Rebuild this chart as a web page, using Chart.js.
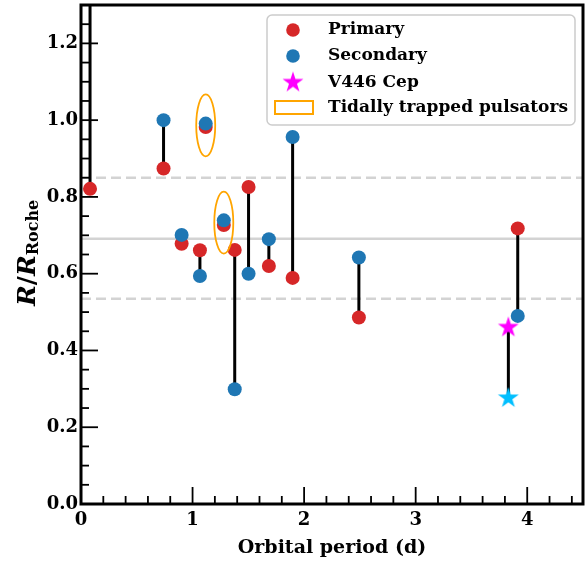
<!DOCTYPE html>
<html>
<head>
<meta charset="utf-8">
<script src="https://cdn.jsdelivr.net/npm/chart.js@4.4.1/dist/chart.umd.min.js"></script>
<style>
  html, body { margin: 0; padding: 0; background: #fff; }
</style>
</head>
<body>
<canvas id="chart" width="586" height="563"></canvas>
<script>
// orbital period (d) and R/R_Roche of each component
const periods    = [0.081, 0.74, 1.118, 0.902, 1.066, 1.28, 1.378, 1.502, 1.684, 1.897, 2.491, 3.915];
const primaryR   = [0.821, 0.874, 0.982, 0.678, 0.661, 0.727, 0.662, 0.826, 0.620, 0.589, 0.486, 0.718];
const secondaryR = [1.45, 1.000, 0.991, 0.701, 0.594, 0.739, 0.299, 0.600, 0.690, 0.956, 0.642, 0.490];
// V446 Cep
const v446Period = [3.831];
const v446Primary = [0.460];
const v446Secondary = [0.276];
// systems with tidally trapped pulsations (index into periods)
const trappedIdx = [2, 5];
// reference levels
const solidLevels = [0.691];
const dashedLevels = [0.85, 0.535];
const xTicks = [0, 1, 2, 3, 4];
const yTicks = [0, 0.2, 0.4, 0.6, 0.8, 1.0, 1.2];
const xMinor = [0.2, 0.4, 0.6, 0.8, 1.2, 1.4, 1.6, 1.8, 2.2, 2.4, 2.6, 2.8, 3.2, 3.4, 3.6, 3.8, 4.2, 4.4];
const yMinor = [0.05, 0.1, 0.15, 0.25, 0.3, 0.35, 0.45, 0.5, 0.55, 0.65, 0.7, 0.75, 0.85, 0.9, 0.95, 1.05, 1.1, 1.15, 1.25];

const RED = "#d62728";
const BLUE = "#1f77b4";
const MAGENTA = "#ff00ff";
const CYAN = "#00bfff";
const ORANGE = "#ffa500";

Chart.defaults.font.family = "'DejaVu Serif', serif";
Chart.defaults.color = "#000";

// five point star as a pointStyle image
function makeStar(color, r) {
  const s = Math.ceil(r * 2 + 2);
  const c = document.createElement("canvas");
  c.width = s;
  c.height = s;
  const g = c.getContext("2d");
  g.fillStyle = color;
  g.beginPath();
  for (let k = 0; k < 10; k++) {
    const rad = k % 2 === 0 ? r : r * 0.382;
    const a = -Math.PI / 2 + (k * Math.PI) / 5;
    const px = s / 2 + rad * Math.cos(a);
    const py = s / 2 + rad * Math.sin(a);
    if (k === 0) g.moveTo(px, py);
    else g.lineTo(px, py);
  }
  g.closePath();
  g.fill();
  return c;
}
const starMagenta = makeStar(MAGENTA, 11);
const starCyan = makeStar(CYAN, 11);

// stems between primary and secondary
const stems = [];
periods.forEach((p, i) => {
  stems.push({ x: p, y: primaryR[i] }, { x: p, y: secondaryR[i] }, { x: p, y: null });
});
v446Period.forEach((p, i) => {
  stems.push({ x: p, y: v446Primary[i] }, { x: p, y: v446Secondary[i] }, { x: p, y: null });
});

const toPoints = (xs, ys) => xs.map((x, i) => ({ x: x, y: ys[i] }));

const framePlugin = {
  id: "frame",
  beforeDatasetsDraw(chart) {
    const { ctx, chartArea: a, scales } = chart;
    ctx.save();
    ctx.strokeStyle = "#d3d3d3";
    ctx.lineWidth = 2.5;
    solidLevels.forEach((v) => {
      const y = scales.y.getPixelForValue(v);
      ctx.beginPath();
      ctx.moveTo(a.left, y);
      ctx.lineTo(a.right, y);
      ctx.stroke();
    });
    ctx.setLineDash([10, 5]);
    dashedLevels.forEach((v) => {
      const y = scales.y.getPixelForValue(v);
      ctx.beginPath();
      ctx.moveTo(a.left, y);
      ctx.lineTo(a.right, y);
      ctx.stroke();
    });
    ctx.restore();
  },
  afterDatasetsDraw(chart) {
    const { ctx, chartArea: a, scales } = chart;
    ctx.save();
    // ellipses round the tidally trapped pulsators
    ctx.strokeStyle = ORANGE;
    ctx.lineWidth = 1.8;
    trappedIdx.forEach((i) => {
      const cx = scales.x.getPixelForValue(periods[i]);
      const cy = scales.y.getPixelForValue((primaryR[i] + secondaryR[i]) / 2);
      ctx.beginPath();
      ctx.ellipse(cx, cy, 9.5, 31, 0, 0, Math.PI * 2);
      ctx.stroke();
    });
    // inward ticks
    ctx.strokeStyle = "#000";
    ctx.lineWidth = 1.8;
    const tick = (vals, len, axis) => {
      vals.forEach((v) => {
        ctx.beginPath();
        if (axis === "x") {
          const x = scales.x.getPixelForValue(v);
          ctx.moveTo(x, a.bottom);
          ctx.lineTo(x, a.bottom - len);
        } else {
          const y = scales.y.getPixelForValue(v);
          ctx.moveTo(a.left, y);
          ctx.lineTo(a.left + len, y);
        }
        ctx.stroke();
      });
    };
    tick(xTicks, 17, "x");
    tick(xMinor, 8, "x");
    tick(yTicks, 17, "y");
    tick(yMinor, 8, "y");
    // spines
    ctx.lineWidth = 3;
    ctx.strokeRect(a.left, a.top, a.right - a.left, a.bottom - a.top);
    ctx.restore();
  },
  afterDraw(chart) {
    const { ctx } = chart;
    ctx.save();
    // legend
    const bx = 267, by = 15, bw = 308, bh = 110;
    ctx.fillStyle = "rgba(255,255,255,0.8)";
    ctx.strokeStyle = "#cccccc";
    ctx.lineWidth = 1.5;
    ctx.beginPath();
    ctx.roundRect(bx, by, bw, bh, 5);
    ctx.fill();
    ctx.stroke();

    const mx = 293, tx = 328;
    const rows = [30, 56, 82.5, 107.5];
    ctx.fillStyle = RED;
    ctx.beginPath();
    ctx.arc(mx, rows[0], 6.8, 0, Math.PI * 2);
    ctx.fill();
    ctx.fillStyle = BLUE;
    ctx.beginPath();
    ctx.arc(mx, rows[1], 6.8, 0, Math.PI * 2);
    ctx.fill();
    ctx.drawImage(starMagenta, mx - starMagenta.width / 2, rows[2] - starMagenta.height / 2);
    ctx.strokeStyle = ORANGE;
    ctx.lineWidth = 2;
    ctx.strokeRect(275, rows[3] - 6.5, 38, 13);

    ctx.fillStyle = "#000";
    ctx.font = "bold 17px 'DejaVu Serif'";
    ctx.textBaseline = "middle";
    ctx.textAlign = "left";
    ["Primary", "Secondary", "V446 Cep", "Tidally trapped pulsators"].forEach((t, k) => {
      ctx.fillText(t, tx, rows[k]);
    });

    // y axis title R/R_Roche
    ctx.translate(35, 306);
    ctx.rotate(-Math.PI / 2);
    ctx.textBaseline = "alphabetic";
    let x = 0;
    ctx.font = "italic bold 25px 'DejaVu Serif'";
    ctx.fillText("R", x, 0);
    x += ctx.measureText("R").width;
    ctx.font = "bold 25px 'DejaVu Serif'";
    ctx.fillText("/", x, 0);
    x += ctx.measureText("/").width;
    ctx.font = "italic bold 25px 'DejaVu Serif'";
    ctx.fillText("R", x, 0);
    x += ctx.measureText("R").width;
    ctx.font = "bold 16px 'DejaVu Serif'";
    ctx.fillText("Roche", x, 3);
    ctx.restore();
  },
};

new Chart(document.getElementById("chart"), {
  type: "scatter",
  data: {
    datasets: [
      {
        type: "line",
        label: "stems",
        data: stems,
        borderColor: "#000",
        borderWidth: 3,
        pointRadius: 0,
        spanGaps: false,
        order: 5,
      },
      {
        label: "Primary",
        data: toPoints(periods, primaryR),
        backgroundColor: RED,
        borderWidth: 0,
        pointRadius: 7,
        order: 4,
      },
      {
        label: "Secondary",
        data: toPoints(periods, secondaryR),
        backgroundColor: BLUE,
        borderWidth: 0,
        pointRadius: 7,
        order: 3,
      },
      {
        label: "V446 Cep",
        data: toPoints(v446Period, v446Primary),
        pointStyle: starMagenta,
        order: 2,
      },
      {
        label: "V446 Cep secondary",
        data: toPoints(v446Period, v446Secondary),
        pointStyle: starCyan,
        order: 1,
      },
    ],
  },
  options: {
    responsive: false,
    animation: false,
    devicePixelRatio: 1,
    layout: { autoPadding: false, padding: { top: 5, right: 3, left: 0, bottom: 0 } },
    plugins: {
      legend: { display: false },
      tooltip: { enabled: false },
    },
    scales: {
      x: {
        type: "linear",
        min: 0,
        max: 4.5,
        afterBuildTicks: (s) => { s.ticks = xTicks.map((v) => ({ value: v })); },
        afterFit: (s) => { s.height = 59; s.paddingLeft = 0; s.paddingRight = 0; },
        grid: { display: false, drawTicks: false },
        border: { display: false },
        ticks: { padding: 6, font: { size: 18, weight: "bold" }, color: "#000" },
        title: {
          display: true,
          text: "Orbital period (d)",
          font: { size: 19, weight: "bold" },
          color: "#000",
          padding: { top: 0, bottom: 4 },
        },
      },
      y: {
        min: 0,
        max: 1.3,
        afterBuildTicks: (s) => { s.ticks = yTicks.map((v) => ({ value: v })); },
        afterFit: (s) => { s.width = 81; s.paddingTop = 0; s.paddingBottom = 0; },
        grid: { display: false, drawTicks: false },
        border: { display: false },
        ticks: {
          padding: 3,
          font: { size: 18, weight: "bold" },
          color: "#000",
          callback: (v) => v.toFixed(1),
        },
      },
    },
  },
  plugins: [framePlugin],
});
</script>
</body>
</html>
